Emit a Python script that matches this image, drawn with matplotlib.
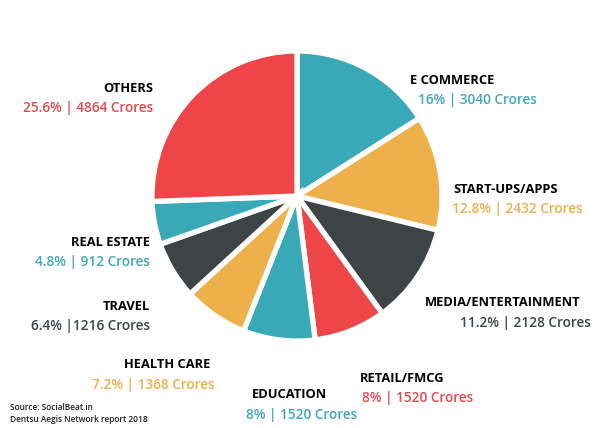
import matplotlib.pyplot as plt

labels = ['E COMMERCE', 'START-UPS/APPS', 'MEDIA/ENTERTAINMENT', 'RETAIL/FMCG', 'EDUCATION',
          'HEALTH CARE', 'TRAVEL', 'REAL ESTATE', 'OTHERS']
shares = [16, 12.8, 11.2, 8, 8, 7.2, 6.4, 4.8, 25.6]
value_texts = ['16% | 3040 Crores', '12.8% | 2432 Crores', '11.2% | 2128 Crores', '8% | 1520 Crores',
               '8% | 1520 Crores', '7.2% | 1368 Crores', '6.4% |1216 Crores', '4.8% | 912 Crores',
               '25.6% | 4864 Crores']

teal, orange, dark, red = '#3aa9b7', '#edb04b', '#3c4446', '#ee4549'
colors = [teal, orange, dark, red, teal, orange, dark, teal, red]
text_colors = ['#3fa8b6', '#eeae4a', '#3c4446', '#e6474b', '#3fa8b6', '#eeae4a', '#3c4446', '#3fa8b6', '#e6474b']

# label anchor (x, y of title line in pixels from top-left), alignment, value x
label_pos = [(410, 80, 'left', 418), (453, 189, 'left', 452), (425, 303, 'left', 460),
             (360, 378, 'left', 362), (252, 395, 'left', 246), (210, 365, 'right', 215),
             (150, 306, 'right', 150), (150, 242, 'right', 150), (153, 88, 'right', 153)]

plt.rcParams['font.family'] = ['Open Sans', 'DejaVu Sans']

fig = plt.figure(figsize=(6, 4.28), dpi=100)
ax = fig.add_axes([0, 0, 1, 1])

ax.pie(shares, colors=colors, startangle=90, counterclock=False,
       center=(297, 428 - 196), radius=145, frame=True,
       wedgeprops=dict(edgecolor='white', linewidth=3.8))
ax.set_xlim(0, 600)
ax.set_ylim(0, 428)
ax.set_aspect('auto')
ax.axis('off')

for lab, val, col, (x, y, ha, vx) in zip(labels, value_texts, text_colors, label_pos):
    ax.text(x, 428 - y, lab, ha=ha, va='center', fontsize=9.3, fontweight='bold', color='black')
    ax.text(vx, 428 - y - 20, val, ha=ha, va='center', fontsize=9.8, fontweight='semibold', color=col)

ax.text(10, 428 - 408, 'Source: SocialBeat.in', fontsize=6, fontweight='semibold', color='#222222', va='center')
ax.text(10, 428 - 419, 'Dentsu Aegis Network report 2018', fontsize=6, fontweight='semibold', color='#222222', va='center')

fig.savefig('out.png', dpi=100)
